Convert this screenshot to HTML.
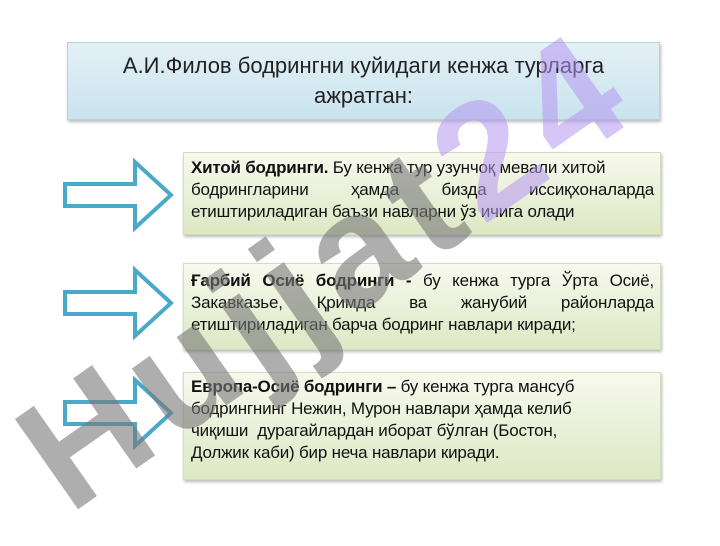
<!DOCTYPE html><html><head><meta charset="utf-8"><style>
body{margin:0;width:720px;height:540px;background:#fff;position:relative;overflow:hidden;font-family:"Liberation Sans",sans-serif}
.t{position:absolute;left:67px;top:42px;width:593px;height:78px;background:linear-gradient(#e4f0f6,#c9e3ee);border:1px solid #b8d3de;box-shadow:1px 2px 3px #bbb;font-size:22px;text-align:center;line-height:30px;box-sizing:border-box;padding:8px 20px 0;color:#222}
.b{position:absolute;left:183px;width:478px;background:linear-gradient(#f7f9ee,#dde8c4);border:1px solid #d4dcc0;box-shadow:1px 2px 3px #bbb;font-size:17px;line-height:22px;color:#111;box-sizing:border-box;padding:4px 6px 0 7px;letter-spacing:-0.2px}
.b div{white-space:nowrap}
.j{text-align:justify;text-align-last:justify}
svg{position:absolute;left:0;top:0}
.wm{position:absolute;font:bold 160px "Liberation Sans",sans-serif;transform:rotate(-35deg);transform-origin:left top;white-space:nowrap;letter-spacing:10px;left:-15px;top:395px}
</style></head><body>
<div class="t">А.И.Филов бодрингни куйидаги кенжа турларга ажратган:</div>
<div class="b" style="top:152px;height:83px"><div><b>Хитой бодринги.</b> Бу кенжа тур узунчоқ мевали хитой</div><div class="j">бодрингларини ҳамда бизда иссиқхоналарда</div><div>етиштириладиган баъзи навларни ўз ичига олади</div></div>
<div class="b" style="top:263px;height:87px;padding-top:6px"><div class="j"><b>Ғарбий Осиё бодринги -</b> бу кенжа турга Ўрта Осиё,</div><div class="j">Закавказье, Қримда ва жанубий районларда</div><div>етиштириладиган барча бодринг навлари киради;</div></div>
<div class="b" style="top:372px;height:108px;padding-top:3px"><div><b>Европа-Осиё бодринги –</b> бу кенжа турга мансуб</div><div>бодрингнинг Нежин, Мурон навлари ҳамда келиб</div><div>чиқиши&nbsp; дурагайлардан иборат бўлган (Бостон,</div><div>Должик каби) бир неча навлари киради.</div></div>
<svg width="720" height="540">
<g fill="none" stroke="#4aa8c8" stroke-width="4">
<path d="M65 184h70v-22l36 33-36 33v-22h-70z"/>
<path d="M65 292h70v-22l36 33-36 33v-22h-70z"/>
<path d="M65 402h70v-22l36 33-36 33v-22h-70z"/>
</g></svg>
<div class="wm"><span style="color:rgba(120,120,120,0.6)">Hujjat</span><span style="color:rgba(180,150,240,0.55)">24</span></div>
</body></html>
